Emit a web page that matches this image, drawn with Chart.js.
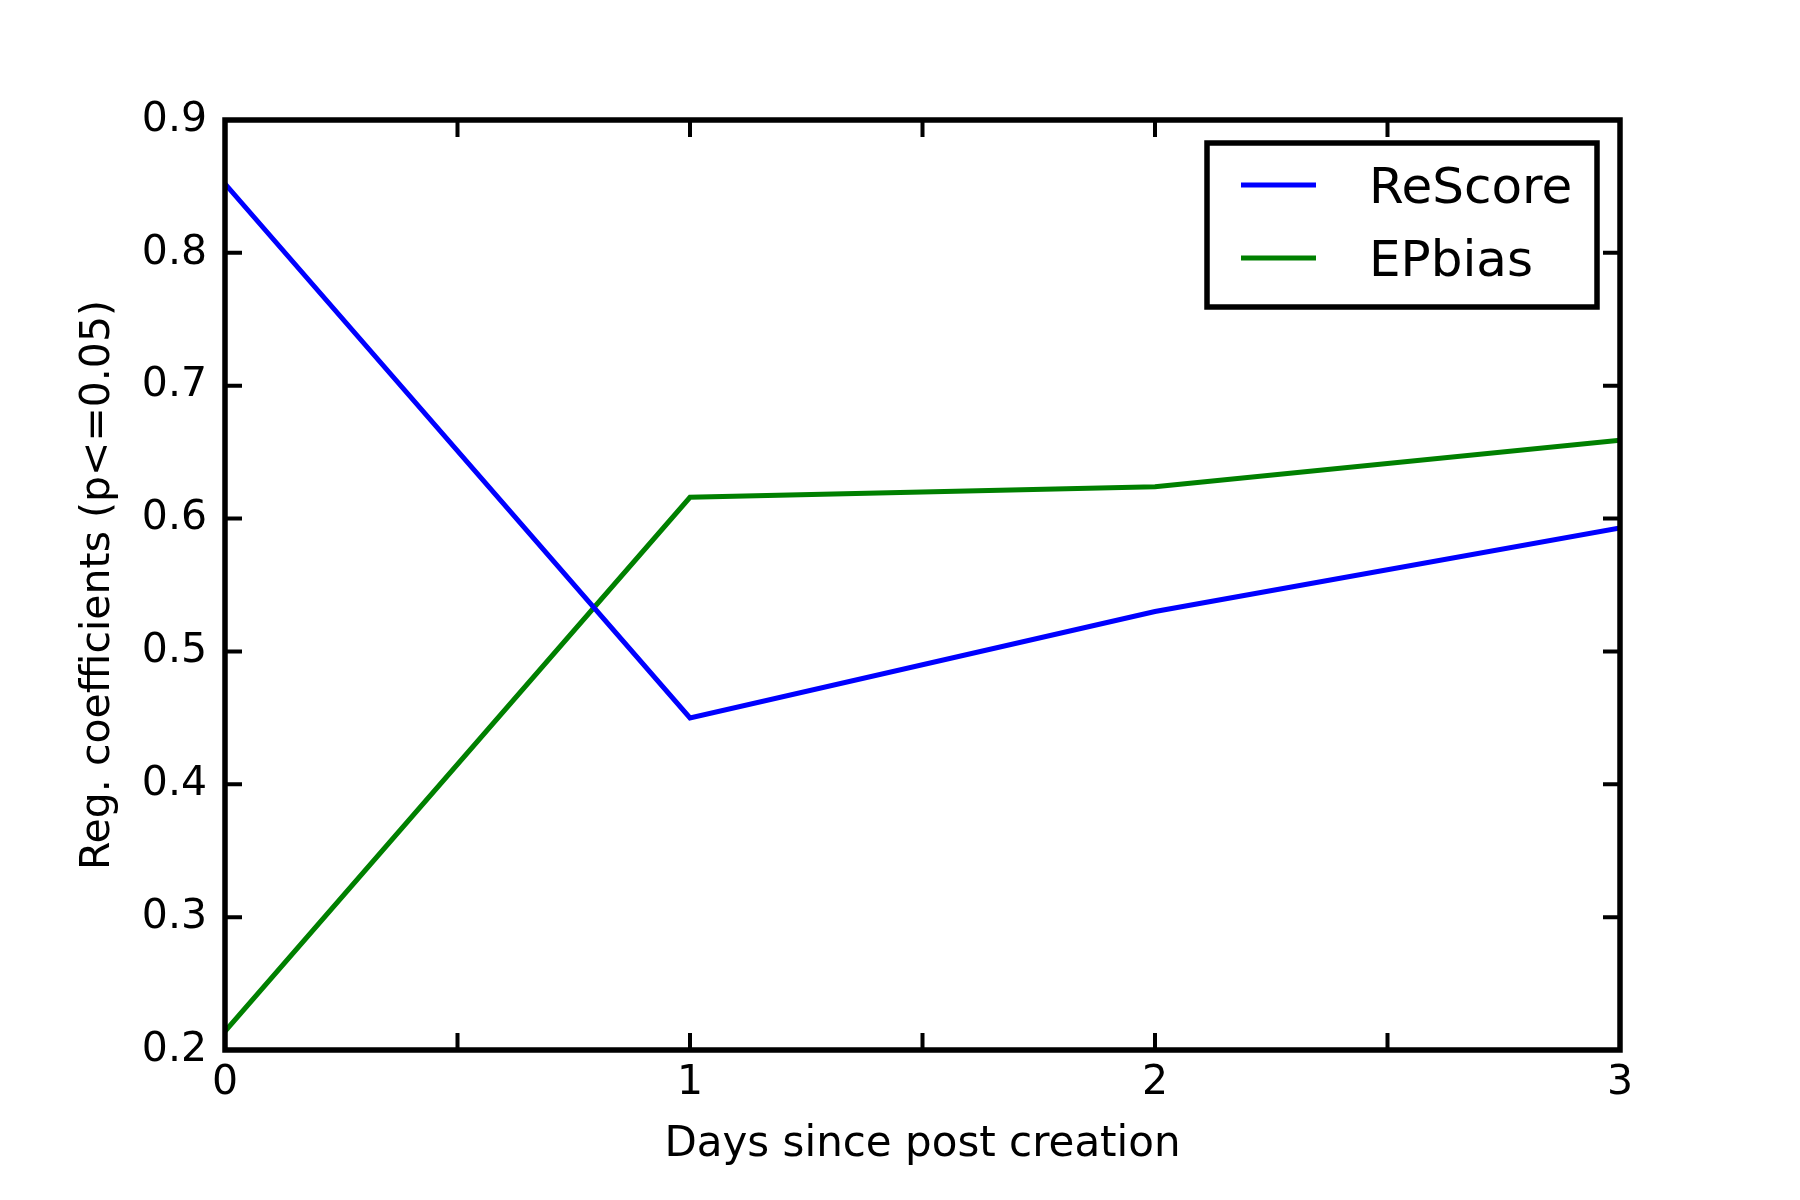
<!DOCTYPE html>
<html>
<head>
<meta charset="utf-8">
<title>Reg. coefficients</title>
<script src="https://cdn.jsdelivr.net/npm/chart.js@4.4.1/dist/chart.umd.min.js"></script>
<style>
    html, body { margin: 0; padding: 0; background: #fff; }
    #wrap { width: 1800px; height: 1200px; position: relative; }
</style>
</head>
<body>
<div id="wrap"><canvas id="coefChart"></canvas></div>
<script>
    // Chart data
    const days = [0, 1, 2, 3];
    const rescoreValues = [0.852, 0.450, 0.530, 0.593];
    const epbiasValues = [0.214, 0.616, 0.624, 0.659];
    const seriesNames = ['ReScore', 'EPbias'];
    const seriesColors = ['#0000ff', '#008000'];

    const FONT = 'DejaVu Sans';

    function toPoints(values) {
        return days.map((d, i) => ({ x: d, y: values[i] }));
    }

    // frame + inward tick marks, matplotlib classic look
    const framePlugin = {
        id: 'frame',
        afterDatasetsDraw(chart) {
            const ctx = chart.ctx;
            const area = chart.chartArea;
            const xScale = chart.scales.x;
            const yScale = chart.scales.y;
            const tickLen = 17;
            ctx.save();
            ctx.strokeStyle = '#000';
            ctx.lineWidth = 4;
            ctx.beginPath();
            xScale.ticks.forEach(t => {
                const px = xScale.getPixelForValue(t.value);
                ctx.moveTo(px, area.bottom);
                ctx.lineTo(px, area.bottom - tickLen);
                ctx.moveTo(px, area.top);
                ctx.lineTo(px, area.top + tickLen);
            });
            yScale.ticks.forEach(t => {
                const py = yScale.getPixelForValue(t.value);
                ctx.moveTo(area.left, py);
                ctx.lineTo(area.left + tickLen, py);
                ctx.moveTo(area.right, py);
                ctx.lineTo(area.right - tickLen, py);
            });
            ctx.stroke();
            ctx.lineWidth = 5.5;
            ctx.strokeRect(area.left, area.top, area.right - area.left, area.bottom - area.top);
            ctx.restore();
        }
    };

    // legend box in the upper right, like the original figure
    const legendPlugin = {
        id: 'boxLegend',
        afterDraw(chart) {
            const ctx = chart.ctx;
            const area = chart.chartArea;
            const boxRight = area.right - 23;
            const boxTop = area.top + 23;
            const boxW = 390;
            const boxH = 164;
            const boxLeft = boxRight - boxW;
            ctx.save();
            ctx.fillStyle = '#fff';
            ctx.fillRect(boxLeft, boxTop, boxW, boxH);
            ctx.strokeStyle = '#000';
            ctx.lineWidth = 5.5;
            ctx.strokeRect(boxLeft, boxTop, boxW, boxH);
            ctx.font = `50px "${FONT}"`;
            ctx.textBaseline = 'alphabetic';
            ctx.textAlign = 'left';
            chart.data.datasets.forEach((ds, i) => {
                const cy = boxTop + 42 + i * 73;
                ctx.strokeStyle = ds.borderColor;
                ctx.lineWidth = 5;
                ctx.beginPath();
                ctx.moveTo(boxLeft + 34, cy);
                ctx.lineTo(boxLeft + 109, cy);
                ctx.stroke();
                ctx.fillStyle = '#000';
                ctx.fillText(ds.label, boxLeft + 162, cy + 18);
            });
            ctx.restore();
        }
    };

    function setupChart() {
        const ctx = document.getElementById('coefChart').getContext('2d');
        new Chart(ctx, {
            type: 'line',
            data: {
                datasets: [
                    {
                        label: seriesNames[0],
                        data: toPoints(rescoreValues),
                        borderColor: seriesColors[0],
                        borderWidth: 5,
                        pointRadius: 0,
                        tension: 0,
                        fill: false
                    },
                    {
                        label: seriesNames[1],
                        data: toPoints(epbiasValues),
                        borderColor: seriesColors[1],
                        borderWidth: 5,
                        pointRadius: 0,
                        tension: 0,
                        fill: false
                    }
                ]
            },
            options: {
                responsive: true,
                maintainAspectRatio: false,
                devicePixelRatio: 1,
                animation: false,
                layout: { padding: { top: 120, right: 180, left: 0, bottom: 0 } },
                plugins: {
                    legend: { display: false },
                    tooltip: { enabled: false }
                },
                scales: {
                    x: {
                        type: 'linear',
                        min: 0,
                        max: 3,
                        border: { display: false },
                        grid: { display: false, drawTicks: false },
                        ticks: {
                            stepSize: 0.5,
                            autoSkip: false,
                            maxRotation: 0,
                            padding: 9,
                            color: '#000',
                            font: { family: FONT, size: 41 },
                            callback: v => Number.isInteger(v) ? String(v) : ''
                        },
                        title: {
                            display: true,
                            text: 'Days since post creation',
                            color: '#000',
                            font: { family: FONT, size: 42 },
                            padding: { top: 0, bottom: 30 }
                        },
                        afterFit: scale => { scale.height = 150; }
                    },
                    y: {
                        type: 'linear',
                        min: 0.2,
                        max: 0.9,
                        border: { display: false },
                        grid: { display: false, drawTicks: false },
                        ticks: {
                            stepSize: 0.1,
                            padding: 18,
                            color: '#000',
                            font: { family: FONT, size: 41 },
                            callback: v => v.toFixed(1)
                        },
                        title: {
                            display: true,
                            text: 'Reg. coefficients (p<=0.05)',
                            color: '#000',
                            font: { family: FONT, size: 41 },
                            padding: { top: 74, bottom: 0 }
                        },
                        afterFit: scale => { scale.width = 225; }
                    }
                }
            },
            plugins: [framePlugin, legendPlugin]
        });
    }

    document.addEventListener('DOMContentLoaded', setupChart);
</script>
</body>
</html>
